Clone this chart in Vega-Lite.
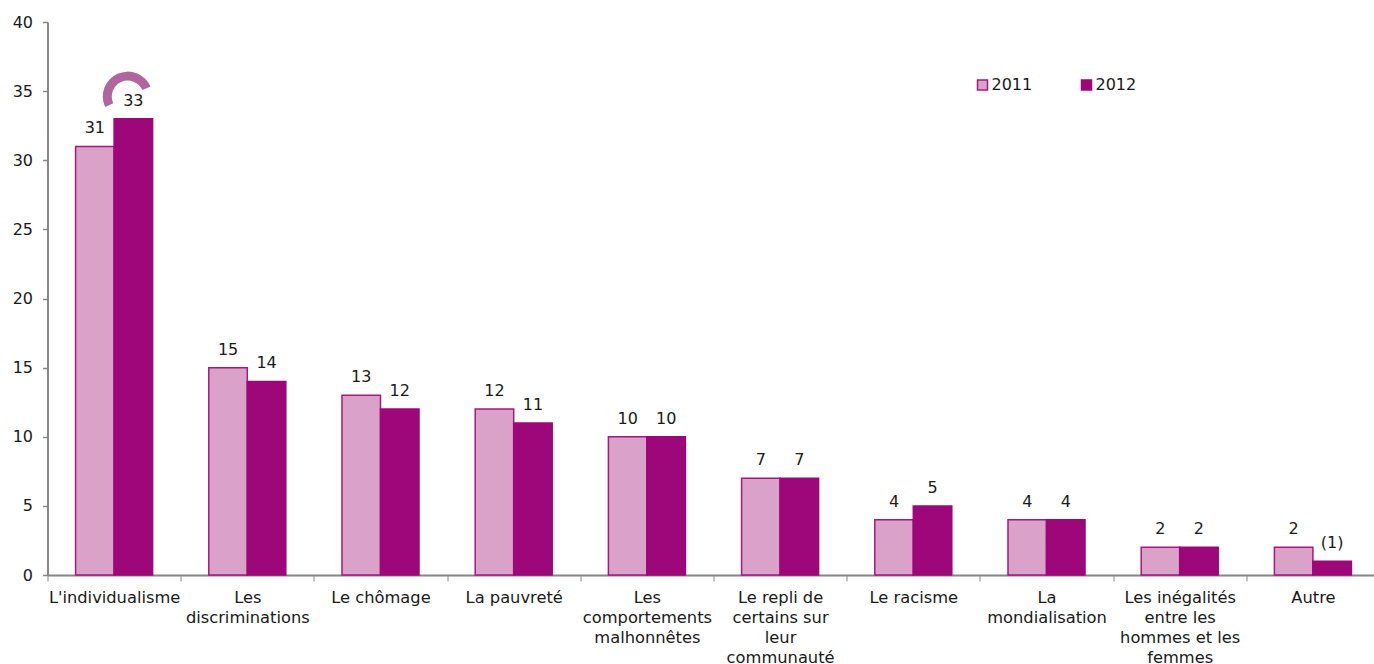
{
"$schema":"https://vega.github.io/schema/vega-lite/v6.json",
"width":1332,"height":553,
"autosize":{"type":"none"},
"padding":{"left":47.5,"top":22,"right":0,"bottom":89},
"background":"#ffffff",
"config":{"view":{"stroke":null},"font":"DejaVu Sans"},
"data":{"values":[
{"category":"L'individualisme","year":"2011","value":31,"label":"31"},
{"category":"L'individualisme","year":"2012","value":33,"label":"33"},
{"category":"Les discriminations","year":"2011","value":15,"label":"15"},
{"category":"Les discriminations","year":"2012","value":14,"label":"14"},
{"category":"Le chômage","year":"2011","value":13,"label":"13"},
{"category":"Le chômage","year":"2012","value":12,"label":"12"},
{"category":"La pauvreté","year":"2011","value":12,"label":"12"},
{"category":"La pauvreté","year":"2012","value":11,"label":"11"},
{"category":"Les comportements malhonnêtes","year":"2011","value":10,"label":"10"},
{"category":"Les comportements malhonnêtes","year":"2012","value":10,"label":"10"},
{"category":"Le repli de certains sur leur communauté","year":"2011","value":7,"label":"7"},
{"category":"Le repli de certains sur leur communauté","year":"2012","value":7,"label":"7"},
{"category":"Le racisme","year":"2011","value":4,"label":"4"},
{"category":"Le racisme","year":"2012","value":5,"label":"5"},
{"category":"La mondialisation","year":"2011","value":4,"label":"4"},
{"category":"La mondialisation","year":"2012","value":4,"label":"4"},
{"category":"Les inégalités entre les hommes et les femmes","year":"2011","value":2,"label":"2"},
{"category":"Les inégalités entre les hommes et les femmes","year":"2012","value":2,"label":"2"},
{"category":"Autre","year":"2011","value":2,"label":"2"},
{"category":"Autre","year":"2012","value":1,"label":"(1)"}
]},
"encoding":{
"x":{"field":"category","type":"nominal","sort":null,"title":null,
"scale":{"paddingInner":0,"paddingOuter":0},
"axis":{"domainColor":"#868686","domainWidth":2,"tickColor":"#868686","tickWidth":1,"tickSize":6,"tickBand":"extent","labelAngle":0,"labelFontSize":16.3,"labelColor":"#1a1a1a","labelFont":"DejaVu Sans","labelPadding":8,"labelLineHeight":20,"labelLimit":0,"labelBaseline":"top","labelOverlap":false,"labelBound":false,"labelFlush":false,
"labelExpr":"{'Les discriminations':['Les','discriminations'],'Les comportements malhonnêtes':['Les','comportements','malhonnêtes'],'Le repli de certains sur leur communauté':['Le repli de','certains sur','leur','communauté'],'La mondialisation':['La','mondialisation'],'Les inégalités entre les hommes et les femmes':['Les inégalités','entre les','hommes et les','femmes']}[datum.label] || datum.label"}},
"y":{"field":"value","type":"quantitative","title":null,
"scale":{"domain":[0,40],"nice":false},
"axis":{"values":[0,5,10,15,20,25,30,35,40],"grid":false,"domainColor":"#868686","domainWidth":2,"tickColor":"#868686","tickWidth":1.5,"tickSize":5,"labelFontSize":16,"labelColor":"#1a1a1a","labelFont":"DejaVu Sans","labelPadding":10}}
},
"layer":[
{"mark":{"type":"bar","strokeWidth":1.5,"xOffset":0.5},
"encoding":{
"xOffset":{"field":"year","type":"nominal","scale":{"paddingInner":0,"paddingOuter":0.73}},
"color":{"field":"year","type":"nominal","title":null,
"scale":{"domain":["2011","2012"],"range":["#DBA2C9","#9E0779"]},
"legend":{"orient":"none","legendX":927,"legendY":55,"direction":"horizontal","columns":2,"symbolType":"square","symbolSize":100,"symbolStrokeWidth":1.5,"labelFontSize":16,"labelColor":"#1a1a1a","labelFont":"DejaVu Sans","labelOffset":1,"columnPadding":46,"title":null}},
"stroke":{"field":"year","type":"nominal","title":null,"scale":{"domain":["2011","2012"],"range":["#A8177F","#9E0779"]}}
}},
{"mark":{"type":"text","fontSize":16,"color":"#1a1a1a","baseline":"bottom","dy":-10,"font":"DejaVu Sans"},
"encoding":{
"xOffset":{"field":"year","type":"nominal","scale":{"paddingInner":0,"paddingOuter":0.73}},
"text":{"field":"label","type":"nominal"}
}},
{"data":{"values":[{"category":"L'individualisme","value":34.6}]},
"mark":{"type":"arc","theta":-2.0,"theta2":1.15,"radius":25,"radius2":16,"color":"#B0669C","xOffset":13.7},
"encoding":{"x":{"field":"category","type":"nominal"},"y":{"field":"value","type":"quantitative","stack":null}}}
]
}
